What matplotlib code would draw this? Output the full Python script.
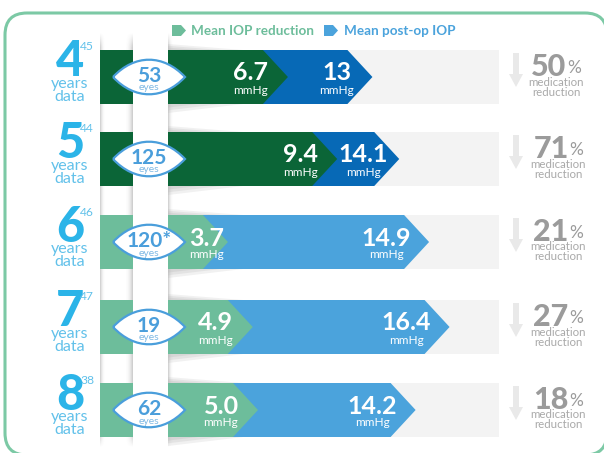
import numpy as np
import matplotlib
matplotlib.use('Agg')
import matplotlib.pyplot as plt
from matplotlib.patches import Polygon, Rectangle, FancyBboxPatch, PathPatch
from matplotlib.path import Path

plt.rcParams['font.family'] = ['Lato', 'DejaVu Sans']

# values
years = ['4', '5', '6', '7', '8']
refs = ['45', '44', '46', '47', '38']
eyes = ['53', '125', '120*', '19', '62']
iop_reduction = [6.7, 9.4, 3.7, 4.9, 5.0]
post_op_iop = [13, 14.1, 14.9, 16.4, 14.2]
iop_reduction_labels = ['6.7', '9.4', '3.7', '4.9', '5.0']
post_op_labels = ['13', '14.1', '14.9', '16.4', '14.2']
med_reduction = [50, 71, 21, 27, 18]

# the original bars are not on one common scale, so each row gets its own
green_scale = [17.9, 18.0, 16.2, 17.3, 18.0]
blue_scale = [6.5, 4.4, 13.5, 12.0, 11.1]

row_top = [50, 132, 215, 300, 383]
row_h = 54
tip = 25

DARK_GREEN = '#0b6537'
DARK_BLUE = '#0769b6'
LIGHT_GREEN = '#6dbd9b'
LIGHT_BLUE = '#4ba3dc'
BIG_BLUE = '#2bb4e8'
SOFT_BLUE = '#62c1ea'
EYE_BLUE = '#4a9edb'
GREY_TXT = '#9b9b9b'
GREY_SOFT = '#a9a9a9'


def chevron(ax, x_end, top, color, zorder):
    cy = top + row_h / 2
    pts = [(100, top), (x_end - tip, top), (x_end, cy), (x_end - tip, top + row_h), (100, top + row_h)]
    ax.add_patch(Polygon(pts, closed=True, fc=color, ec='none', zorder=zorder))


def shade(ax, x0, x1, y0, y1, flip=False, strength=0.3):
    # fold shadow, fades sideways and at both ends
    gx = np.linspace(0, 1, 32) ** 2.5
    if flip:
        gx = gx[::-1]
    gy = np.clip(np.minimum(np.linspace(0, 1, 200), np.linspace(1, 0, 200)) * 30, 0, 1)
    rgba = np.zeros((200, 32, 4))
    rgba[..., :3] = 0.3
    rgba[..., 3] = np.outer(gy, gx) * strength
    ax.imshow(rgba, extent=(x0, x1, y1, y0), aspect='auto', zorder=0.5, interpolation='bilinear')


def wedge(ax, top, drop):
    # soft shadow that the bar throws right of the white column
    for k, alpha in zip([1.0, 0.7, 0.4], [0.2, 0.25, 0.3]):
        pts = [(168, top), (168 + 75 * k, top), (168, top + drop * k)]
        ax.add_patch(Polygon(pts, fc='#bbbbbb', ec='none', alpha=alpha, zorder=0.6))


def eye(ax, cx, cy):
    w, h = 36, 18
    verts = [(cx - w, cy), (cx - w * 0.4, cy - h * 1.28), (cx + w * 0.4, cy - h * 1.28), (cx + w, cy),
             (cx + w * 0.4, cy + h * 1.28), (cx - w * 0.4, cy + h * 1.28), (cx - w, cy)]
    codes = [Path.MOVETO, Path.CURVE4, Path.CURVE4, Path.CURVE4, Path.CURVE4, Path.CURVE4, Path.CURVE4]
    ax.add_patch(PathPatch(Path(verts, codes), fc='white', ec=EYE_BLUE, lw=1.6, zorder=8))


fig = plt.figure(figsize=(6.04, 4.53), dpi=100)
ax = fig.add_axes([0, 0, 1, 1])

ax.add_patch(FancyBboxPatch((25, 33), 562, 402, boxstyle='round,pad=20,rounding_size=22',
                            fc='white', ec='#7cc9a5', lw=2.2, zorder=0))

# legend
ax.add_patch(Polygon([(172, 25), (181, 25), (186, 30.5), (181, 36), (172, 36)], fc=LIGHT_GREEN, ec='none'))
ax.text(191, 31, 'Mean IOP reduction', color=LIGHT_GREEN, fontsize=9.7, fontweight='bold', va='center')
ax.add_patch(Polygon([(324, 25), (333, 25), (338, 30.5), (333, 36), (324, 36)], fc=LIGHT_BLUE, ec='none'))
ax.text(344, 31, 'Mean post-op IOP', color=LIGHT_BLUE, fontsize=9.7, fontweight='bold', va='center')

for i, top in enumerate(row_top):
    cy = top + row_h / 2
    late = i >= 2
    green = LIGHT_GREEN if late else DARK_GREEN
    blue = LIGHT_BLUE if late else DARK_BLUE

    green_end = 168 + iop_reduction[i] * green_scale[i]
    blue_end = green_end + post_op_iop[i] * blue_scale[i]

    ax.add_patch(Rectangle((100, top), 399, row_h, fc='#f3f3f3', ec='none', zorder=1))
    chevron(ax, blue_end, top, blue, 2)
    chevron(ax, green_end, top, green, 3)
    wedge(ax, top + row_h, 9)
    wedge(ax, top, -6)

    # value labels
    lx = green_end - (21 if i == 2 else 37)
    ax.text(lx, cy - 4, iop_reduction_labels[i], color='white', fontsize=18, fontweight='bold',
            ha='center', va='center', zorder=5)
    ax.text(lx, cy + 13, 'mmHg', color='white', fontsize=8.5, ha='center', va='center', zorder=5)
    rx = blue_end - (43 if late else 36)
    ax.text(rx, cy - 4, post_op_labels[i], color='white', fontsize=18, fontweight='bold',
            ha='center', va='center', zorder=5)
    ax.text(rx, cy + 13, 'mmHg', color='white', fontsize=8.5, ha='center', va='center', zorder=5)

    # year column
    ax.text(70, top + 12, years[i], color=BIG_BLUE, fontsize=35, fontweight='black', ha='center', va='center')
    ax.text(80, top - 3, refs[i], color=SOFT_BLUE, fontsize=8.7, ha='left', va='center')
    ax.text(70, top + 34, 'years', color=SOFT_BLUE, fontsize=11.5, ha='center', va='center')
    ax.text(70, top + 47, 'data', color=SOFT_BLUE, fontsize=11.5, ha='center', va='center')

    # right hand column
    ax.add_patch(Polygon([(513, top + 3), (519, top + 3), (519, top + 24), (523, top + 24), (516, top + 37),
                          (509, top + 24), (513, top + 24)], fc='#e9e9e9', ec='none', zorder=2))
    off = 0 if i == 0 else 2
    ax.text(549 + off, top + 17, str(med_reduction[i]), color=GREY_TXT, fontsize=22, fontweight='black',
            ha='center', va='center')
    ax.text(574 + off, top + 18, '%', color=GREY_TXT, fontsize=12.5, ha='center', va='center')
    ax.text(555 + off + 1, top + 32, 'medication', color=GREY_SOFT, fontsize=8.3, ha='center', va='center')
    ax.text(555 + off + 1, top + 42, 'reduction', color=GREY_SOFT, fontsize=8.3, ha='center', va='center')

# white fold column and its shadows, the bars sit on top of the shadows
ax.add_patch(Rectangle((133, 32), 35, 421, fc='white', ec='none', zorder=4))
shade(ax, 124, 133, 32, 448)
shade(ax, 168, 174, 32, 448, flip=True)
shade(ax, 100, 106, 32, 448, flip=True)

for i, top in enumerate(row_top):
    cy = top + row_h / 2
    eye(ax, 149, cy)
    ax.text(149, cy - 1, eyes[i], color=EYE_BLUE, fontsize=15, fontweight='bold', ha='center', va='center', zorder=9)
    ax.text(149, cy + 11, 'eyes', color='#7db8e4', fontsize=7.5, ha='center', va='center', zorder=9)

ax.set_xlim(0, 604)
ax.set_ylim(453, 0)
ax.axis('off')
fig.savefig('out.png', dpi=100)
